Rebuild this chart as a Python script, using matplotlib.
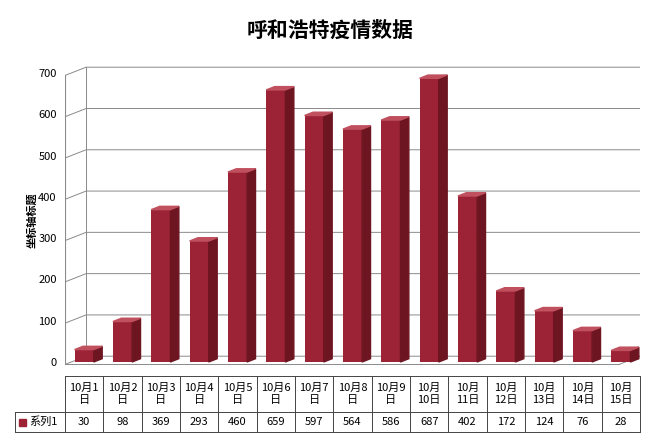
import matplotlib.pyplot as plt
from matplotlib.patches import Polygon

plt.rcParams['font.family'] = ['Noto Sans CJK SC', 'DejaVu Sans']

dates = ["10月1\n日", "10月2\n日", "10月3\n日", "10月4\n日", "10月5\n日", "10月6\n日",
         "10月7\n日", "10月8\n日", "10月9\n日", "10月\n10日", "10月\n11日", "10月\n12日",
         "10月\n13日", "10月\n14日", "10月\n15日"]
cases = [30, 98, 369, 293, 460, 659, 597, 564, 586, 687, 402, 172, 124, 76, 28]
series_name = "系列1"

W, H = 660, 442
fig = plt.figure(figsize=(6.6, 4.42), dpi=100)
fig.patch.set_facecolor("white")

L, R, TOP, BOT = 65, 640, 62, 375
ax = fig.add_axes([L / W, 1 - BOT / H, (R - L) / W, (BOT - TOP) / H])
n = len(cases)
ax.set_xlim(-0.5, n - 0.5)
ax.set_ylim(-31.5, 726.6)
for s in ax.spines.values():
    s.set_visible(False)
ax.set_xticks([])
ax.set_yticks(range(0, 701, 100))
ax.tick_params(axis='y', length=0, labelsize=8, pad=6)

dx, dy = 0.55, 20
gc = "#8a8a8a"
# back wall / floor
for v in range(0, 701, 100):
    ax.plot([-0.5, -0.5 + dx, n - 0.5], [v - 6, v - 6 + dy, v - 6 + dy],
            color=gc, lw=0.7, zorder=1)
ax.plot([-0.5, -0.5], [-6, 700 - 6], color=gc, lw=0.8, zorder=1)
ax.plot([-0.5 + dx, -0.5 + dx], [-6 + dy, 700 - 6 + dy], color=gc, lw=0.7, zorder=1)
ax.plot([-0.5, n - 0.5 - dx], [-6, -6], color=gc, lw=0.7, zorder=1)
ax.plot([n - 0.5 - dx, n - 0.5], [-6, -6 + dy], color=gc, lw=0.7, zorder=1)

bw = 0.5
front = "#9b2335"
ax.bar(range(n), cases, width=bw, color=front, zorder=3)
for i, v in enumerate(cases):
    x0, x1 = i - bw / 2, i + bw / 2
    side = Polygon([[x1, 0], [x1 + dx * 0.4, dy * 0.4], [x1 + dx * 0.4, v + dy * 0.4], [x1, v]],
                   closed=True, color="#6e1522", zorder=3)
    top = Polygon([[x0, v], [x0 + dx * 0.4, v + dy * 0.4], [x1 + dx * 0.4, v + dy * 0.4], [x1, v]],
                  closed=True, color="#c0505e", zorder=3)
    ax.add_patch(side)
    ax.add_patch(top)

fig.text(0.5, 1 - 30 / H, "呼和浩特疫情数据", ha="center", va="center",
         fontsize=15, fontweight="bold")
fig.text(32 / W, 1 - 220 / H, "坐标轴标题", rotation=90, ha="center", va="center",
         fontsize=8, fontweight="bold")

# data table
cw = (R - L) / n
y_top, y_mid, y_bot = 376, 412, 432
lc = "#444444"
def hline(y, x0, x1):
    fig.add_artist(plt.Line2D([x0 / W, x1 / W], [1 - y / H, 1 - y / H], color=lc, lw=0.7))
def vline(x, y0, y1):
    fig.add_artist(plt.Line2D([x / W, x / W], [1 - y0 / H, 1 - y1 / H], color=lc, lw=0.7))
hline(y_top, L, R)
hline(y_mid, 15, R)
hline(y_bot, 15, R)
vline(15, y_mid, y_bot)
for k in range(n + 1):
    vline(L + k * cw, y_top, y_bot)
for i in range(n):
    xc = (L + (i + 0.5) * cw) / W
    fig.text(xc, 1 - (y_top + y_mid) / 2 / H, dates[i], ha="center", va="center",
             fontsize=8, linespacing=1.3)
    fig.text(xc, 1 - (y_mid + y_bot) / 2 / H, str(cases[i]), ha="center", va="center", fontsize=8)
fig.add_artist(plt.Rectangle((19 / W, 1 - 426 / H), 7 / W, 7 / H, color=front))
fig.text(29 / W, 1 - (y_mid + y_bot) / 2 / H, series_name, ha="left", va="center", fontsize=8)

fig.savefig("out.png", dpi=100)
